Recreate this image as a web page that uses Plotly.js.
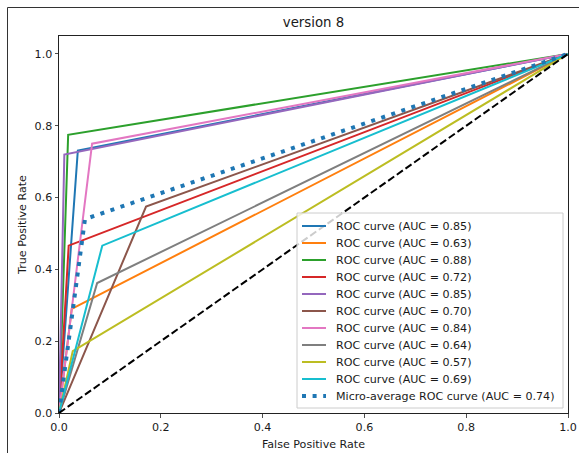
<!DOCTYPE html>
<html>
<head>
<meta charset="utf-8">
<script src="https://cdn.plot.ly/plotly-3.0.1.min.js"></script>
<style>html,body{margin:0;padding:0;background:#fff;}#chart{width:579px;height:453px;}</style>
</head>
<body>
<div id="chart"></div>
<script>
// ---- data ----
const classAuc = ["0.85", "0.63", "0.88", "0.72", "0.85", "0.70", "0.84", "0.64", "0.57", "0.69"];
const classFpr = [
  [0, 0.037, 1], [0, 0.025, 1], [0, 0.018, 1], [0, 0.019, 1], [0, 0.0105, 1],
  [0, 0.171, 1], [0, 0.065, 1], [0, 0.075, 1], [0, 0.027, 1], [0, 0.085, 1]
];
const classTpr = [
  [0, 0.731, 1], [0, 0.29, 1], [0, 0.775, 1], [0, 0.466, 1], [0, 0.72, 1],
  [0, 0.575, 1], [0, 0.75, 1], [0, 0.362, 1], [0, 0.172, 1], [0, 0.466, 1]
];
const microFpr = [0, 0.051, 1];
const microTpr = [0, 0.540, 1];
const microAuc = "0.74";
const chanceX = [0, 1];
const chanceY = [0, 1];
const tickVals = [0, 0.2, 0.4, 0.6, 0.8, 1.0];
const tickText = ["0.0", "0.2", "0.4", "0.6", "0.8", "1.0"];
const colors = ["#1f77b4", "#ff7f0e", "#2ca02c", "#d62728", "#9467bd", "#8c564b", "#e377c2", "#7f7f7f", "#bcbd22", "#17becf"];

// ---- geometry helpers (pixel -> paper) ----
const W = 579, H = 453;
const L = 59, R = 568, T = 36, B = 413;
const px = v => (v - L) / (R - L);
const py = v => (B - v) / (B - T);
const FONT = "DejaVu Sans, sans-serif";
const FS = 11.1;
const TXT = "#1a1a1a";

const traces = [];
classFpr.forEach((f, i) => {
  traces.push({
    x: f, y: classTpr[i], type: "scatter", mode: "lines",
    name: "ROC curve (AUC = " + classAuc[i] + ")",
    line: {color: colors[i], width: 2}, showlegend: false, hoverinfo: "skip"
  });
});
traces.push({
  x: microFpr, y: microTpr, type: "scatter", mode: "lines",
  name: "Micro-average ROC curve (AUC = " + microAuc + ")",
  line: {color: "#1f77b4", width: 4, dash: "4px,6.6px"}, showlegend: false, hoverinfo: "skip"
});
traces.push({
  x: chanceX, y: chanceY, type: "scatter", mode: "lines",
  line: {color: "#000000", width: 2, dash: "7.4px,3.2px"}, showlegend: false, hoverinfo: "skip"
});

// custom legend (matplotlib-like spacing)
const legendNames = classAuc.map(a => "ROC curve (AUC = " + a + ")").concat(["Micro-average ROC curve (AUC = " + microAuc + ")"]);
const shapes = [
  // screenshot frame
  {type: "line", xref: "paper", yref: "paper", x0: px(7.5), x1: px(579), y0: py(7.5), y1: py(7.5), line: {color: "#333", width: 1}},
  {type: "line", xref: "paper", yref: "paper", x0: px(7.5), x1: px(7.5), y0: py(7.5), y1: py(453), line: {color: "#333", width: 1}},
  // legend box
  {type: "rect", xref: "paper", yref: "paper", x0: px(297), x1: px(563), y0: py(408), y1: py(213),
   line: {color: "#cccccc", width: 1}, fillcolor: "rgba(255,255,255,0.8)", layer: "above"}
];
const annotations = [];
legendNames.forEach((n, i) => {
  const yc = 226 + 17 * i;
  const isMicro = i === legendNames.length - 1;
  shapes.push({
    type: "line", xref: "paper", yref: "paper", x0: px(302), x1: px(326), y0: py(yc), y1: py(yc),
    line: isMicro ? {color: "#1f77b4", width: 4, dash: "4px,6.6px"} : {color: colors[i], width: 2},
    layer: "above"
  });
  annotations.push({
    xref: "paper", yref: "paper", x: px(334), y: py(yc), xanchor: "left", yanchor: "middle",
    text: n, showarrow: false, font: {family: FONT, size: FS, color: TXT}
  });
});

const axisCommon = {
  showgrid: false, zeroline: false, showline: true, linecolor: "#222", linewidth: 1, mirror: true,
  ticks: "outside", ticklen: 3.5, tickwidth: 0.8, tickcolor: "#222",
  tickvals: tickVals, ticktext: tickText, tickfont: {family: FONT, size: FS, color: TXT}
};

const layout = {
  width: W, height: H,
  margin: {l: L, r: W - R, t: T, b: H - B, pad: 0},
  paper_bgcolor: "#fff", plot_bgcolor: "#fff",
  title: {text: "version 8", font: {family: FONT, size: 13.3, color: TXT}, x: px(313.5), xref: "paper", xanchor: "center", y: 1 - 22 / H, yref: "container", yanchor: "middle"},
  xaxis: Object.assign({}, axisCommon, {range: [0, 1], title: {text: "False Positive Rate", font: {family: FONT, size: FS, color: TXT}, standoff: 7}}),
  yaxis: Object.assign({}, axisCommon, {range: [0, 1.05], title: {text: "True Positive Rate", font: {family: FONT, size: FS, color: TXT}, standoff: 5}}),
  showlegend: false,
  shapes: shapes,
  annotations: annotations
};

Plotly.newPlot("chart", traces, layout, {staticPlot: true, displayModeBar: false});
</script>
</body>
</html>
